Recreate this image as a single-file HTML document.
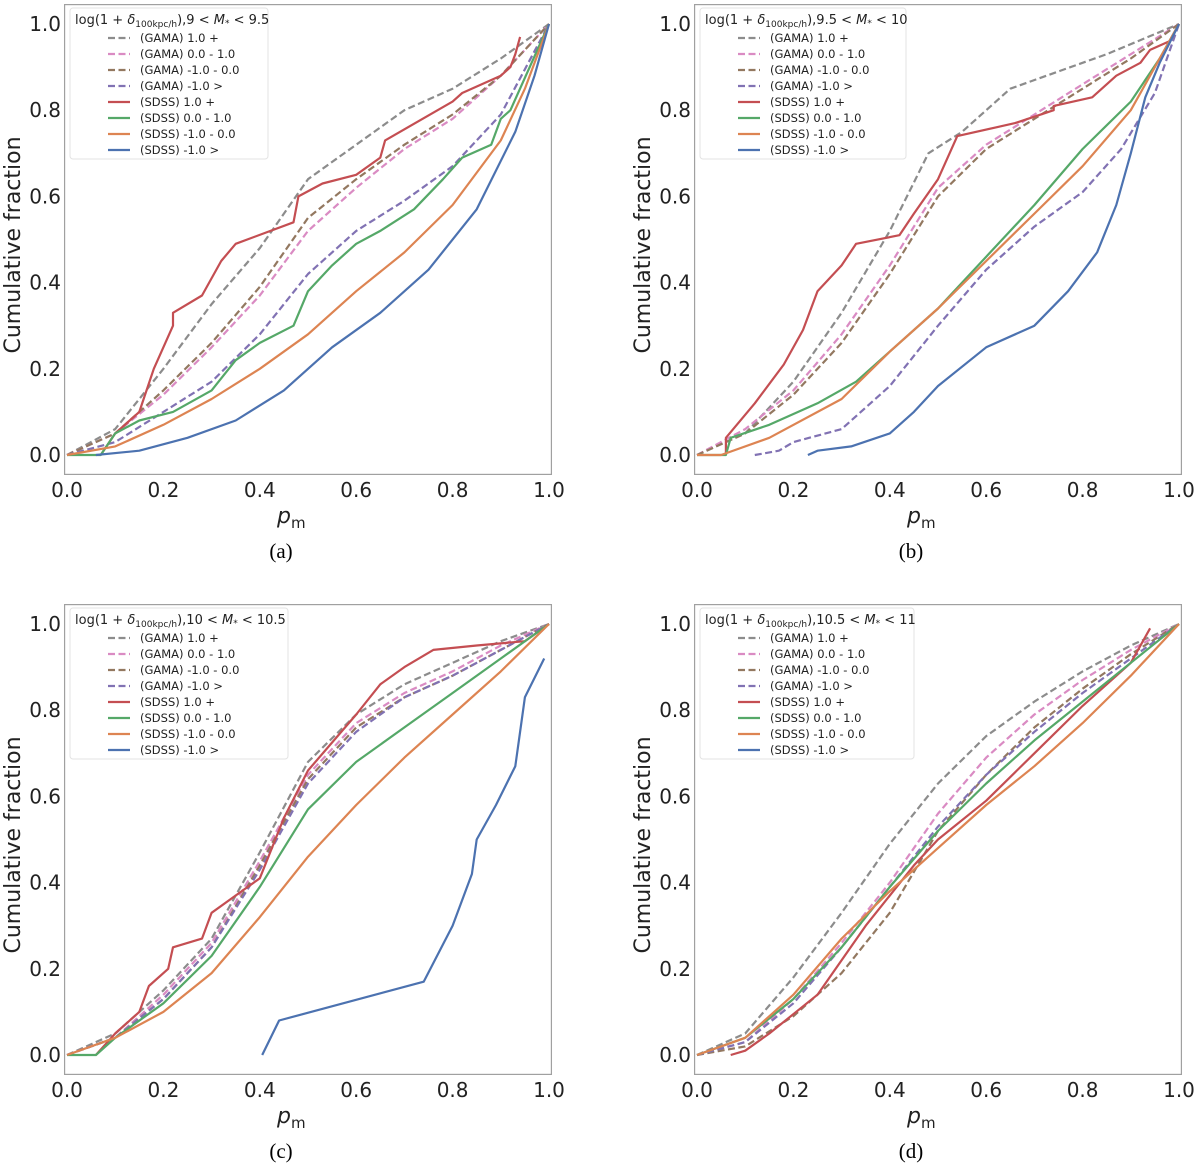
<!DOCTYPE html>
<html><head><meta charset="utf-8"><style>
body{margin:0;background:#fff}
svg{display:block}
text{font-family:"DejaVu Sans","Liberation Sans",sans-serif}
text.cap{font-family:"Liberation Serif",serif}
</style></head><body>
<svg id="c" width="1200" height="1173" viewBox="0 0 1200 1173" xmlns="http://www.w3.org/2000/svg"></svg>
<script>
const seriesNames=["(GAMA) 1.0 +","(GAMA) 0.0 - 1.0","(GAMA) -1.0 - 0.0","(GAMA) -1.0 >","(SDSS) 1.0 +","(SDSS) 0.0 - 1.0","(SDSS) -1.0 - 0.0","(SDSS) -1.0 >"];
const xTicks=[0,0.2,0.4,0.6,0.8,1.0];
const yTicks=[0,0.2,0.4,0.6,0.8,1.0];
const massRanges=[["9","9.5"],["9.5","10"],["10","10.5"],["10.5","11"]];
const captions=["(a)","(b)","(c)","(d)"];
const panelA=[
[[0,0],[0.1,0.06],[0.2,0.2],[0.3,0.35],[0.4,0.48],[0.5,0.64],[0.6,0.72],[0.7,0.8],[0.8,0.85],[0.9,0.92],[1,1]],
[[0,0],[0.1,0.05],[0.2,0.14],[0.3,0.25],[0.4,0.37],[0.5,0.52],[0.6,0.62],[0.7,0.71],[0.8,0.78],[0.9,0.88],[1,1]],
[[0,0],[0.1,0.05],[0.2,0.15],[0.3,0.26],[0.4,0.39],[0.5,0.55],[0.6,0.64],[0.7,0.72],[0.8,0.79],[0.9,0.88],[1,1]],
[[0,0],[0.1,0.03],[0.2,0.1],[0.3,0.17],[0.4,0.28],[0.5,0.42],[0.6,0.52],[0.7,0.59],[0.8,0.67],[0.9,0.79],[1,1]],
[[0.07,0],[0.1,0.05],[0.15,0.1],[0.18,0.2],[0.22,0.3],[0.22,0.33],[0.28,0.37],[0.32,0.45],[0.35,0.49],[0.47,0.54],[0.48,0.6],[0.53,0.63],[0.6,0.65],[0.65,0.69],[0.66,0.73],[0.8,0.82],[0.82,0.84],[0.9,0.88],[0.92,0.9],[0.93,0.93],[0.94,0.97]],
[[0,0],[0.07,0],[0.1,0.05],[0.15,0.08],[0.22,0.1],[0.3,0.15],[0.35,0.22],[0.4,0.26],[0.47,0.3],[0.5,0.38],[0.55,0.44],[0.6,0.49],[0.65,0.52],[0.72,0.57],[0.78,0.64],[0.82,0.69],[0.88,0.72],[0.9,0.78],[0.92,0.8],[1,1]],
[[0,0],[0.1,0.02],[0.2,0.07],[0.3,0.13],[0.4,0.2],[0.5,0.28],[0.6,0.38],[0.7,0.47],[0.8,0.58],[0.9,0.73],[0.95,0.85],[1,1]],
[[0.06,0],[0.15,0.01],[0.25,0.04],[0.35,0.08],[0.45,0.15],[0.55,0.25],[0.65,0.33],[0.75,0.43],[0.85,0.57],[0.93,0.75],[0.97,0.88],[1,1]]
];
const panelB=[
[[0,0],[0.1,0.05],[0.2,0.17],[0.3,0.33],[0.4,0.52],[0.48,0.7],[0.55,0.75],[0.65,0.85],[0.75,0.89],[0.85,0.93],[1,1]],
[[0,0],[0.1,0.06],[0.2,0.15],[0.3,0.28],[0.4,0.44],[0.5,0.62],[0.6,0.72],[0.7,0.79],[0.8,0.86],[0.9,0.93],[1,1]],
[[0,0],[0.1,0.05],[0.2,0.14],[0.3,0.26],[0.4,0.42],[0.5,0.6],[0.6,0.71],[0.7,0.78],[0.8,0.85],[0.9,0.92],[1,1]],
[[0.12,0],[0.17,0.01],[0.2,0.03],[0.3,0.06],[0.4,0.16],[0.5,0.3],[0.6,0.43],[0.7,0.53],[0.8,0.61],[0.88,0.71],[0.95,0.84],[1,1]],
[[0.06,0],[0.06,0.04],[0.12,0.12],[0.18,0.21],[0.22,0.29],[0.25,0.38],[0.3,0.44],[0.33,0.49],[0.42,0.51],[0.45,0.56],[0.5,0.64],[0.54,0.74],[0.62,0.76],[0.66,0.77],[0.74,0.8],[0.74,0.81],[0.82,0.83],[0.87,0.88],[0.92,0.91],[0.94,0.94],[0.98,0.96],[1,1]],
[[0,0],[0.06,0],[0.07,0.04],[0.15,0.07],[0.25,0.12],[0.33,0.17],[0.4,0.24],[0.5,0.34],[0.6,0.46],[0.7,0.58],[0.8,0.71],[0.9,0.82],[0.96,0.92],[1,1]],
[[0,0],[0.05,0],[0.15,0.04],[0.3,0.13],[0.4,0.24],[0.5,0.34],[0.6,0.45],[0.7,0.56],[0.8,0.67],[0.9,0.8],[0.96,0.92],[1,1]],
[[0.23,0],[0.25,0.01],[0.32,0.02],[0.4,0.05],[0.45,0.1],[0.5,0.16],[0.6,0.25],[0.7,0.3],[0.77,0.38],[0.83,0.47],[0.87,0.58],[0.9,0.7],[0.93,0.83],[0.96,0.91],[1,1]]
];
const panelC=[
[[0,0],[0.1,0.05],[0.2,0.15],[0.3,0.27],[0.4,0.47],[0.5,0.68],[0.6,0.79],[0.7,0.86],[0.8,0.91],[0.9,0.96],[1,1]],
[[0,0],[0.1,0.04],[0.2,0.14],[0.3,0.26],[0.4,0.45],[0.5,0.65],[0.6,0.77],[0.7,0.84],[0.8,0.89],[0.9,0.95],[1,1]],
[[0,0],[0.1,0.04],[0.2,0.13],[0.3,0.25],[0.4,0.44],[0.5,0.64],[0.6,0.76],[0.7,0.83],[0.8,0.88],[0.9,0.94],[1,1]],
[[0,0],[0.1,0.04],[0.2,0.13],[0.3,0.25],[0.4,0.43],[0.5,0.63],[0.6,0.75],[0.7,0.83],[0.8,0.88],[0.9,0.94],[1,1]],
[[0.06,0],[0.1,0.05],[0.15,0.1],[0.17,0.16],[0.21,0.2],[0.22,0.25],[0.28,0.27],[0.3,0.33],[0.35,0.37],[0.4,0.41],[0.45,0.55],[0.5,0.66],[0.6,0.79],[0.65,0.86],[0.7,0.9],[0.76,0.94],[0.85,0.95],[0.95,0.96],[1,1]],
[[0,0],[0.06,0],[0.1,0.04],[0.2,0.12],[0.3,0.23],[0.4,0.39],[0.5,0.57],[0.6,0.68],[0.7,0.76],[0.8,0.84],[0.9,0.92],[1,1]],
[[0,0],[0.1,0.04],[0.2,0.1],[0.3,0.19],[0.4,0.32],[0.5,0.46],[0.6,0.58],[0.7,0.69],[0.8,0.79],[0.9,0.89],[1,1]],
[[0.405,0],[0.44,0.08],[0.74,0.17],[0.8,0.3],[0.84,0.42],[0.85,0.5],[0.89,0.58],[0.93,0.67],[0.94,0.75],[0.95,0.83],[0.99,0.92]]
];
const panelD=[
[[0,0],[0.1,0.05],[0.2,0.18],[0.3,0.33],[0.4,0.49],[0.5,0.63],[0.6,0.74],[0.7,0.82],[0.8,0.89],[0.9,0.95],[1,1]],
[[0,0],[0.1,0.03],[0.2,0.13],[0.3,0.26],[0.4,0.4],[0.5,0.56],[0.6,0.69],[0.7,0.79],[0.8,0.87],[0.9,0.94],[1,1]],
[[0,0],[0.1,0.02],[0.2,0.09],[0.3,0.19],[0.4,0.33],[0.5,0.52],[0.6,0.65],[0.7,0.76],[0.8,0.85],[0.9,0.93],[1,1]],
[[0,0],[0.1,0.03],[0.2,0.12],[0.3,0.25],[0.4,0.39],[0.5,0.53],[0.6,0.65],[0.7,0.75],[0.8,0.84],[0.9,0.92],[1,1]],
[[0.07,0],[0.1,0.01],[0.15,0.05],[0.25,0.14],[0.35,0.3],[0.45,0.44],[0.5,0.5],[0.6,0.59],[0.7,0.7],[0.8,0.81],[0.9,0.91],[0.94,0.99]],
[[0,0],[0.1,0.04],[0.2,0.13],[0.3,0.25],[0.4,0.39],[0.5,0.52],[0.6,0.63],[0.7,0.73],[0.8,0.82],[0.9,0.91],[1,1]],
[[0,0],[0.1,0.04],[0.2,0.14],[0.3,0.27],[0.4,0.38],[0.5,0.48],[0.6,0.58],[0.7,0.67],[0.8,0.77],[0.9,0.88],[1,1]],
[]
];
const allPanels=[panelA,panelB,panelC,panelD];
const colors=["#8c8c8c","#da8bc3","#937860","#8172b3","#c44e52","#55a868","#dd8452","#4c72b0"];
const NS="http://www.w3.org/2000/svg";
const svg=document.getElementById("c");
function mk(tag,attrs,parent){const e=document.createElementNS(NS,tag);for(const k in attrs)e.setAttribute(k,attrs[k]);(parent||svg).appendChild(e);return e;}
const geo=[{x0:67,y0:455},{x0:697,y0:455},{x0:67,y0:1055},{x0:697,y0:1055}];
const W=482,H=431;
allPanels.forEach((data,p)=>{
  const g=mk("g",{});
  
  
  const {x0,y0}=geo[p];
  const sx=v=>x0+v*W, sy=v=>y0-v*H;
  const fr=mk("rect",{x:sx(-0.005),y:sy(1.045),width:W*1.01,height:H*1.09,fill:"#fff",stroke:"#a0a0a0","stroke-width":1.2},g);
  
  
  xTicks.forEach(t=>{const tx=mk("text",{x:sx(t),y:y0+42,"font-size":20,"text-anchor":"middle",fill:"#222"},g);tx.textContent=t.toFixed(1);
    
    });
  yTicks.forEach(t=>{const ty=mk("text",{x:x0-6,y:sy(t)+7,"font-size":20,"text-anchor":"end",fill:"#222"},g);ty.textContent=t.toFixed(1);
    
    });
  const xl=mk("text",{x:x0+210,y:y0+68,"font-size":22,fill:"#222"},g);
  xl.innerHTML='<tspan font-style="italic">p</tspan><tspan font-size="15" dy="5">m</tspan>';
  
  
  const yl=mk("text",{x:0,y:0,"font-size":22,"text-anchor":"middle",fill:"#222",transform:`translate(${x0-47},${y0-210}) rotate(-90)`},g);
  yl.textContent="Cumulative fraction";
  
  
  const cap=mk("text",{x:x0+214,y:y0+103,"font-size":21,"text-anchor":"middle",fill:"#000","class":"cap"},g);
  cap.textContent=captions[p];
  
  
  data.forEach((pts,i)=>{
    if(!pts.length)return;
    const d=pts.map((q,j)=>(j?"L":"M")+sx(q[0]).toFixed(1)+","+sy(q[1]).toFixed(1)).join("");
    const a={d:d,fill:"none",stroke:colors[i],"stroke-width":2.2,"stroke-linejoin":"round"};
    if(i<4)a["stroke-dasharray"]="7,3.5";
    const pa=mk("path",a,g);
    
    
  });
  const lg=mk("g",{},g);
  
  
  const lw=p===1?206:(p===0?198:p===2?218:214);
  mk("rect",{x:x0+3,y:y0-447,width:lw,height:151,rx:3,fill:"#fff",stroke:"#e0e0e0","stroke-opacity":0.9},lg);
  const tt=mk("text",{x:x0+8,y:y0-431,"font-size":13,fill:"#222"},lg);
  tt.innerHTML='log(1 + <tspan font-style="italic">δ</tspan><tspan font-size="9" dy="3">100kpc/h</tspan><tspan dy="-3">),'+massRanges[p][0]+' &lt; </tspan><tspan font-style="italic">M</tspan><tspan font-size="9" dy="2">*</tspan><tspan dy="-2"> &lt; '+massRanges[p][1]+'</tspan>';
  
  
  seriesNames.forEach((n,i)=>{
    const yy=y0-417+i*16;
    const la={x1:x0+41,x2:x0+63,y1:yy,y2:yy,stroke:colors[i],"stroke-width":2.2};
    if(i<4)la["stroke-dasharray"]="7,3.5";
    const ln=mk("line",la,lg);
    
    
    const lt=mk("text",{x:x0+73,y:yy+4,"font-size":11.5,fill:"#222"},lg);
    lt.textContent=n;
    
    
  });
});
</script>
</body></html>
